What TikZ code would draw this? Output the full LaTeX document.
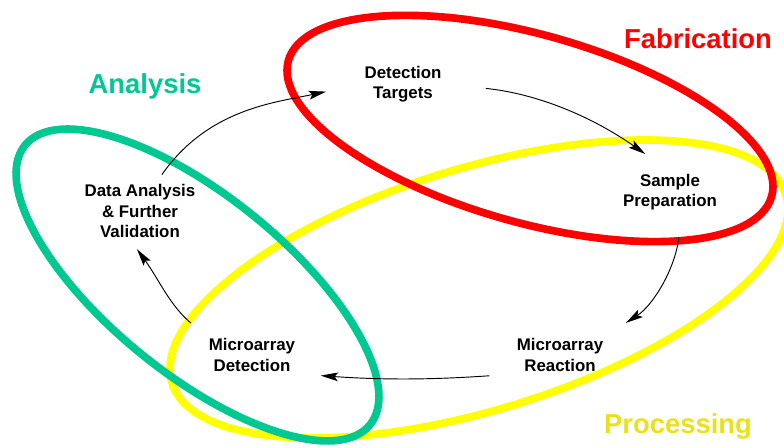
\documentclass[tikz,border=0pt]{standalone}
\usepackage{fontspec}
\setmainfont{Liberation Sans}
\usetikzlibrary{arrows.meta}
\definecolor{fabred}{RGB}{255,0,0}
\definecolor{procyellow}{RGB}{255,255,0}
\definecolor{proctext}{RGB}{232,226,24}
\definecolor{anagreen}{RGB}{0,200,145}

\begin{document}
\begin{tikzpicture}[x=0.3mm,y=0.3mm]
\tikzset{ring/.style=
            {line width=2.3mm},
         stage/.style=
            {align=center,inner sep=2pt,font=\fontsize{14.4}{17.5}\selectfont\bfseries},
         phase/.style=
            {inner sep=0pt,font=\fontsize{23.4}{28}\selectfont\bfseries},
         flow/.style=
            {line width=0.8pt,-{Stealth[length=5.2mm,width=2.6mm,inset=1mm]}}}
\useasboundingbox (0,0) rectangle (784,448);

% the three phases
\draw[ring,procyellow,rotate around={17:(479,159)}] (479,159) ellipse [x radius=321,y radius=121];
\draw[ring,fabred,rotate around={-15.7:(530,319.5)}] (530,319.5) ellipse [x radius=251,y radius=94];
\draw[ring,anagreen,rotate around={-39:(197.5,163)}] (197.5,163) ellipse [x radius=222,y radius=89];

\node[phase,text=anagreen] (ana) at (145,362) {Analysis};
\node[phase,text=fabred] (fab) at (698,409) {Fabrication};
\node[phase,text=proctext] (proc) at (678,22) {Processing};

% the cycle
\node[stage] (tgt)   at (403,364) {Detection\\Targets};
\node[stage] (prep)  at (670,256) {Sample\\Preparation};
\node[stage] (react) at (560,93)  {Microarray\\Reaction};
\node[stage] (mdet)  at (252,93)  {Microarray\\Detection};
\node[stage] (data)  at (140,237) {Data Analysis\\\& Further\\Validation};

\draw[flow,shorten <=2.6mm,shorten >=11mm] (data.60) to[out=55,in=192] (tgt.west);
\draw[flow,shorten <=12.6mm,shorten >=9mm] (tgt.east) to[out=-6,in=145] (prep.north);
\draw[flow,shorten <=7.5mm,shorten >=7.2mm] (prep.-60) to[out=-97,in=33] (react.north east);
\draw[flow,shorten <=7.5mm,shorten >=6.9mm] (react.south west) to[out=184,in=-4] (mdet.south east);
\draw[flow,shorten <=6mm,shorten >=3.3mm] (mdet.north west) to[out=140,in=-54] (data.252);
\end{tikzpicture}
\end{document}
